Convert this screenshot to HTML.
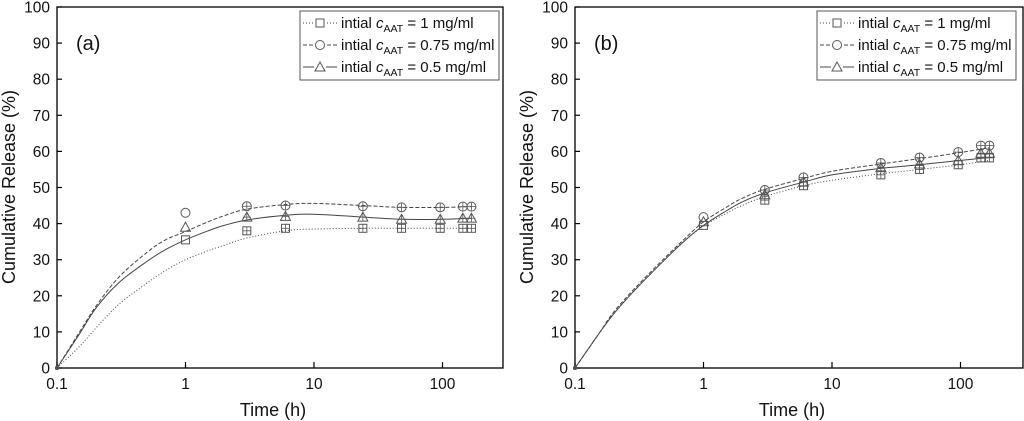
<!DOCTYPE html>
<html><head><meta charset="utf-8"><style>
body{margin:0;background:#fff;width:1024px;height:421px;overflow:hidden}
svg{display:block;font-family:"Liberation Sans",Arial,sans-serif}
</style></head><body>
<svg id="chart" width="1024" height="421" viewBox="0 0 1024 421"></svg>
<script>
const times=[0.1,1,3,6,24,48,96,144,168];
const fitTimes=[0.1,0.15,0.2,0.3,0.5,0.7,1,1.5,2,3,6,10,24,48,100,168];
const seriesNames=["1 mg/ml","0.75 mg/ml","0.5 mg/ml"];
const aPts1=[0,35.5,38,38.7,38.7,38.7,38.7,38.7,38.7];
const aPts075=[0,43,44.8,45,44.8,44.5,44.5,44.7,44.7];
const aPts05=[0,39,41.8,42,41.8,41.2,41.2,41.5,41.5];
const aFit1=[0,6,11,17.5,23.5,27,30,32.5,34,36,38,38.5,38.7,38.7,38.7,38.7];
const aFit075=[0,10,17,25,32,35.5,37.8,40.5,42.2,44,45.3,45.6,45,44.5,44.5,44.7];
const aFit05=[0,9.5,16.5,23.5,29.5,32.8,35.5,38,39.5,41,42.3,42.6,41.8,41.2,41.2,41.5];
const bPts1=[0,39.5,46.5,50.5,53.5,55,56.3,58.2,58.2];
const bPts075=[0,41.8,49.3,52.8,56.8,58.3,59.8,61.6,61.6];
const bPts05=[0,40.5,48,51.5,55.5,56.5,57.5,59.5,59.5];
const bFit1=[0,9,15,22,30,35,39.3,42.8,45,47.5,50.5,52,53.8,55,56.3,57.5];
const bFit075=[0,9,15.5,22.5,30.5,35.5,40.5,44.5,47,49.5,52.5,54.5,56.5,58,59.7,61];
const bFit05=[0,9,15,22,30,35,39.5,43.5,46,48.5,51.5,53.5,55.3,56.3,57.5,58.3];
const yTicks=[0,10,20,30,40,50,60,70,80,90,100];
const xTicks=[0.1,1,10,100];
const xTickLabels=["0.1","1","10","100"];

const NS="http://www.w3.org/2000/svg";
const svg=document.getElementById('chart');
function mk(tag,attrs,parent){const e=document.createElementNS(NS,tag);for(const k in attrs)e.setAttribute(k,attrs[k]);(parent||svg).appendChild(e);return e;}

const panels=[
 {id:"a",x0:57,x1:503,legX:300,pts:[aPts1,aPts075,aPts05],fits:[aFit1,aFit075,aFit05]},
 {id:"b",x0:575,x1:1023,legX:817,pts:[bPts1,bPts075,bPts05],fits:[bFit1,bFit075,bFit05]}
];
const yTop=7,yBot=368,dec=128.5;
const dashes=["1,2","4,2","none"];
const markers=["square","circle","triangle"];

function drawMarker(g,type,x,y){
  if(type==="square")return mk('rect',{x:x-4,y:y-4,width:8,height:8,fill:'none',stroke:'#555','stroke-width':1},g);
  if(type==="circle")return mk('circle',{cx:x,cy:y,r:4.5,fill:'none',stroke:'#555','stroke-width':1},g);
  return mk('path',{d:`M${x} ${y-5}L${x+5} ${y+4}L${x-5} ${y+4}Z`,fill:'none',stroke:'#555','stroke-width':1},g);
}
function smoothPath(P){
  let d=`M${P[0][0].toFixed(1)} ${P[0][1].toFixed(1)}`;
  for(let i=0;i<P.length-1;i++){
    const p0=P[Math.max(0,i-1)],p1=P[i],p2=P[i+1],p3=P[Math.min(P.length-1,i+2)];
    const c1=[p1[0]+(p2[0]-p0[0])/6,p1[1]+(p2[1]-p0[1])/6];
    const c2=[p2[0]-(p3[0]-p1[0])/6,p2[1]-(p3[1]-p1[1])/6];
    d+=`C${c1[0].toFixed(1)} ${c1[1].toFixed(1)} ${c2[0].toFixed(1)} ${c2[1].toFixed(1)} ${p2[0].toFixed(1)} ${p2[1].toFixed(1)}`;
  }
  return d;
}

panels.forEach(p=>{
  const sx=t=>p.x0+Math.log10(t/0.1)*dec;
  const sy=v=>yBot-(v/100)*(yBot-yTop);
  const g=mk('g',{});
  
  
  const frame=mk('rect',{x:p.x0,y:yTop,width:p.x1-p.x0,height:yBot-yTop,fill:'none',stroke:'#000','stroke-width':1.3},g);
  
  
  yTicks.forEach(v=>{
    mk('line',{x1:p.x0,x2:p.x0+5,y1:sy(v),y2:sy(v),stroke:'#000','stroke-width':1.2},g);
    const t=mk('text',{x:p.x0-7,y:sy(v)+5.5,'text-anchor':'end','font-size':15.5,fill:'#111'},g);
    t.textContent=v;
    
    
  });
  xTicks.forEach((v,i)=>{
    mk('line',{x1:sx(v),x2:sx(v),y1:yBot,y2:yBot-6,stroke:'#000','stroke-width':1.2},g);
    const t=mk('text',{x:sx(v),y:yBot+21,'text-anchor':'middle','font-size':15.5,fill:'#111'},g);
    t.textContent=xTickLabels[i];
    
    
  });
  const xt=mk('text',{x:(p.x0+p.x1)/2-7,y:416,'text-anchor':'middle','font-size':18,fill:'#111'},g);
  xt.textContent="Time (h)";
  
  
  const yt=mk('text',{x:0,y:0,'text-anchor':'middle','font-size':18,fill:'#111',transform:`translate(${p.x0-42},187) rotate(-90)`},g);
  yt.textContent="Cumulative Release (%)";
  
  
  const pl=mk('text',{x:p.x0+19,y:50,'font-size':20,fill:'#111'},g);
  pl.textContent="("+p.id+")";
  
  
  p.fits.forEach((f,si)=>{
    const P=f.map((v,i)=>[sx(fitTimes[i]),sy(v)]);
    const l=mk('path',{d:smoothPath(P),fill:'none',stroke:'#444','stroke-width':1,'stroke-dasharray':dashes[si]},g);
    
    
  });
  p.pts.forEach((arr,si)=>{
    arr.forEach((v,i)=>{
      const x=sx(times[i]),y=sy(v);
      if(i===0){const m=mk('circle',{cx:x,cy:y,r:1.5,fill:'none',stroke:'#555'},g);return;}
      const m=drawMarker(g,markers[si],x,y);
      
      
      if(i>1){mk('line',{x1:x,x2:x,y1:y-4,y2:y+4,stroke:'#555','stroke-width':0.8},g);mk('line',{x1:x-4,x2:x+4,y1:y,y2:y,stroke:'#555','stroke-width':0.8},g);}
    });
  });
  const lg=mk('g',{},g);
  
  
  mk('rect',{x:p.legX,y:11,width:199,height:69,fill:'#fff',stroke:'#555','stroke-width':1},lg);
  seriesNames.forEach((n,si)=>{
    const yy=23+si*22;
    mk('line',{x1:p.legX+3,x2:p.legX+37,y1:yy,y2:yy,stroke:'#444','stroke-dasharray':dashes[si]},lg);
    mk('rect',{x:p.legX+14,y:yy-5,width:12,height:10,fill:'#fff'},lg);
    drawMarker(lg,markers[si],p.legX+20,yy);
    const t=mk('text',{x:p.legX+41,y:yy+5,'font-size':15,fill:'#111'},lg);
    t.innerHTML='intial <tspan font-style="italic">c</tspan><tspan font-size="10.5" dy="4">AAT</tspan><tspan dy="-4"> = '+n+'</tspan>';
    
    
  });
});
</script>
</body></html>
